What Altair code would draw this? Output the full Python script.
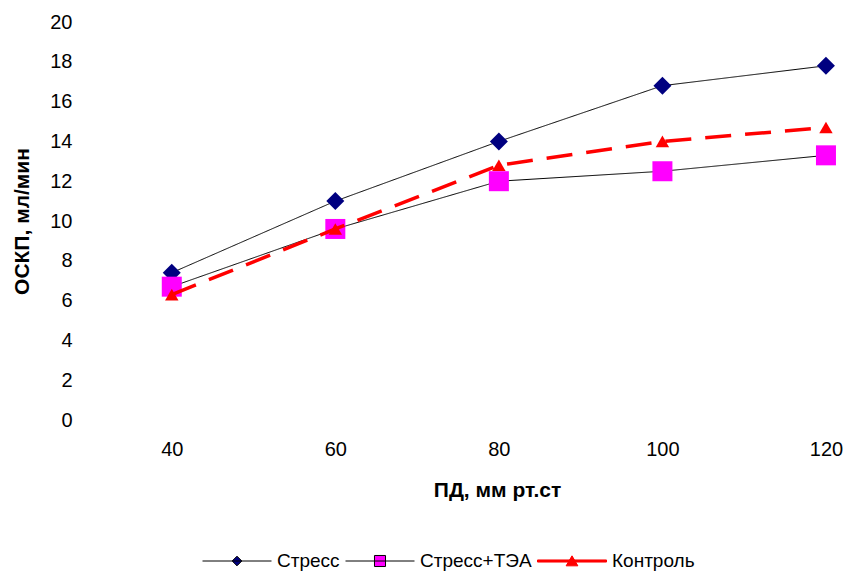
import altair as alt
import pandas as pd

# ---- data ----
categories = [40, 60, 80, 100, 120]
series_names = ["Стресс", "Стресс+ТЭА", "Контроль"]
stress = [7.4, 11.0, 14.0, 16.8, 17.8]
stress_tea = [6.7, 9.6, 12.0, 12.5, 13.3]
control = [6.3, 9.6, 12.8, 14.0, 14.7]
y_ticks = [0, 2, 4, 6, 8, 10, 12, 14, 16, 18, 20]

# ---- styles ----
line_colors = ["#000000", "#000000", "#FF0000"]
marker_colors = ["#000080", "#FF00FF", "#FF0000"]
marker_shapes = ["diamond", "square", "triangle-up"]
marker_sizes = [324, 400, 180]
line_widths = [1, 1, 3.5]
line_dashes = [[1, 0], [1, 0], [26, 14]]
# legend glyphs: a line with the marker in its middle (unit box = symbol width)
legend_paths = [
    "M-1,0H1M0,-0.14L0.14,0L0,0.14L-0.14,0Z",
    "M-1,0H1M-0.16,-0.16H0.16V0.16H-0.16Z",
    "M-1,-0.03H1V0.03H-1ZM0,-0.15L0.17,0.14L-0.17,0.14Z",
]

FONT = "Liberation Sans"

rows = []
for name, vals in zip(series_names, [stress, stress_tea, control]):
    for c, v in zip(categories, vals):
        rows.append({"series": name, "x": c, "y": v})
df = pd.DataFrame(rows)


def lit(v):
    return "'" + v + "'" if isinstance(v, str) else repr(v)


def pick(values):
    expr = lit(values[-1])
    for n, v in list(zip(series_names, values))[-2::-1]:
        expr = f"datum.value === '{n}' ? {lit(v)} : ({expr})"
    return expr


legend = alt.Legend(
    title=None,
    orient="none",
    legendX=112,
    legendY=504,
    direction="horizontal",
    symbolSize=4761,
    symbolType={"expr": pick(legend_paths)},
    symbolStrokeWidth=1,
    symbolOpacity=1,
    labelFont=FONT,
    labelFontSize=19,
    labelColor="black",
    labelOffset=5,
    columnPadding=3,
    padding=0,
)

x_enc = alt.X(
    "x:Q",
    scale=alt.Scale(domain=[30, 122.45], nice=False, zero=False),
    axis=alt.Axis(
        values=categories,
        title="ПД, мм рт.ст",
        labelPadding=19,
        titlePadding=20,
        titleX=407,
    ),
)
y_enc = alt.Y(
    "y:Q",
    scale=alt.Scale(domain=[0, 20], nice=False),
    axis=alt.Axis(
        values=y_ticks,
        title="ОСКП, мл/мин",
        labelPadding=18,
        titlePadding=17,
    ),
)
stroke_enc = alt.Stroke(
    "series:N",
    scale=alt.Scale(domain=series_names, range=line_colors),
    legend=legend,
)
fill_enc = alt.Fill(
    "series:N",
    scale=alt.Scale(domain=series_names, range=marker_colors),
    legend=legend,
)

layers = []
for i, name in enumerate(series_names):
    base = alt.Chart().transform_filter(alt.datum.series == name)
    line = base.mark_line(
        strokeWidth=line_widths[i], strokeDash=line_dashes[i]
    ).encode(x=x_enc, y=y_enc, stroke=stroke_enc)
    pts = base.mark_point(
        filled=True,
        shape=marker_shapes[i],
        size=marker_sizes[i],
        opacity=1,
    ).encode(x=x_enc, y=y_enc, fill=fill_enc)
    layers += [line, pts]

chart = (
    alt.layer(*layers, data=df)
    .properties(
        width=756,
        height=398,
        padding={"left": 90, "top": 22, "right": 0, "bottom": 152},
        autosize=alt.AutoSizeParams(type="none"),
        background="white",
    )
    .configure_view(stroke=None)
    .configure_axis(
        labelFont=FONT,
        labelFontSize=20,
        labelColor="black",
        titleFont=FONT,
        titleFontSize=21,
        titleFontWeight="bold",
        titleColor="black",
        domain=False,
        ticks=False,
        grid=False,
    )
)

chart.save("out.html", embed_options={"renderer": "svg", "actions": False})
